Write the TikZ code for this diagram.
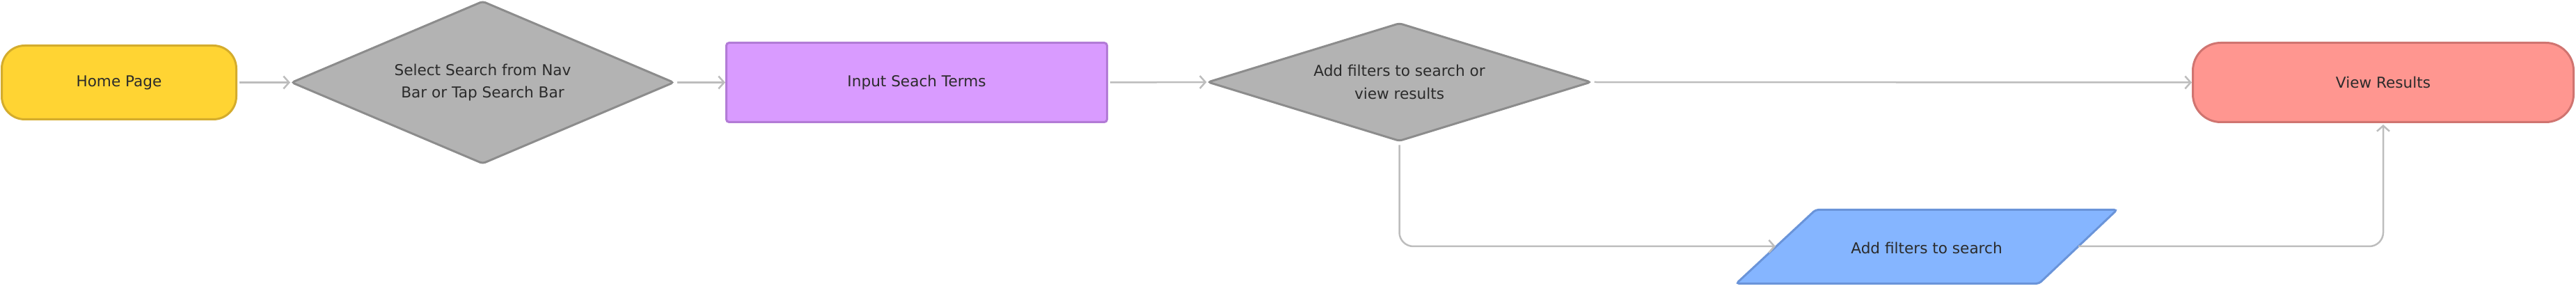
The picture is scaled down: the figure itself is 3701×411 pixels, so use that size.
\documentclass[tikz,border=0pt]{standalone}
\usepackage{fontspec}
\setmainfont{DejaVu Sans}
\usetikzlibrary{shapes.geometric,arrows.meta}
\definecolor{txt}{HTML}{2B2B2B}
\definecolor{yelF}{HTML}{FFD433}
\definecolor{yelD}{HTML}{D4AC2C}
\definecolor{grayF}{HTML}{B3B3B3}
\definecolor{grayD}{HTML}{8C8C8C}
\definecolor{purF}{HTML}{D99BFF}
\definecolor{purD}{HTML}{B27BD6}
\definecolor{redF}{HTML}{FF9690}
\definecolor{redD}{HTML}{D07470}
\definecolor{bluF}{HTML}{85B5FF}
\definecolor{bluD}{HTML}{6A94D9}
\definecolor{conn}{HTML}{BDBDBD}
\begin{document}
\begin{tikzpicture}[x=1pt,y=-1pt,
  base/.style={draw, line width=3pt, inner sep=0pt, text=txt, align=center,
    font=\fontsize{21.6}{32.4}\selectfont},
  terminal/.style={base, rectangle, minimum width=337pt, minimum height=106pt, rounded corners=33pt},
  procbox/.style={base, rectangle, minimum width=547pt, minimum height=114pt, rounded corners=4pt},
  decision/.style={base, diamond, rounded corners=4pt},
  iobox/.style={draw=bluD, fill=bluF, line width=3pt, rounded corners=4pt},
  label/.style={inner sep=0pt, text=txt, font=\fontsize{21.6}{32.4}\selectfont},
  link/.style={draw=conn, line width=2.5pt, -{Straight Barb[length=8pt,width=18pt]}}
]
\useasboundingbox (0,0) rectangle (3701,411);

\node[terminal, fill=yelF, draw=yelD] (home) at (171,118.5) {Home Page};
\node[decision, fill=grayF, draw=grayD, minimum width=550pt, minimum height=234pt, aspect=2.35]
  (sel) at (693.5,118.5) {Select Search from Nav\\Bar or Tap Search Bar};
\node[procbox, fill=purF, draw=purD] (input) at (1317,118.5) {Input Seach Terms};
\node[decision, fill=grayF, draw=grayD, minimum width=551pt, minimum height=170pt, aspect=3.2]
  (add) at (2010.5,118) {Add filters to search or\\view results};
\node[procbox, fill=redF, draw=redD, rounded corners=40pt] (view) at (3424,118.5) {View Results};

% parallelogram (input/output)
\path[iobox] (2494.5,407.5) -- (2608.5,301.5) -- (3041.5,301.5) -- (2929.5,407.5) -- cycle;
\node[label] (filters) at (2768,356) {Add filters to search};
\coordinate (filtersIn) at (2551,354);
\coordinate (filtersOut) at (2986,354);

\draw[link, shorten <=3pt] (home.east) -- (sel.west);
\draw[link, shorten <=3pt] (sel.east) -- (input.west);
\draw[link, shorten <=3pt] (input.east) -- (add.west);
\draw[link, shorten <=3pt] (add.east) -- (view.west);
\draw[link, rounded corners=20pt, shorten <=4pt] (add.south) |- (filtersIn);
\draw[link, rounded corners=20pt, shorten >=2pt] (filtersOut) -| (view.south);
\end{tikzpicture}
\end{document}
